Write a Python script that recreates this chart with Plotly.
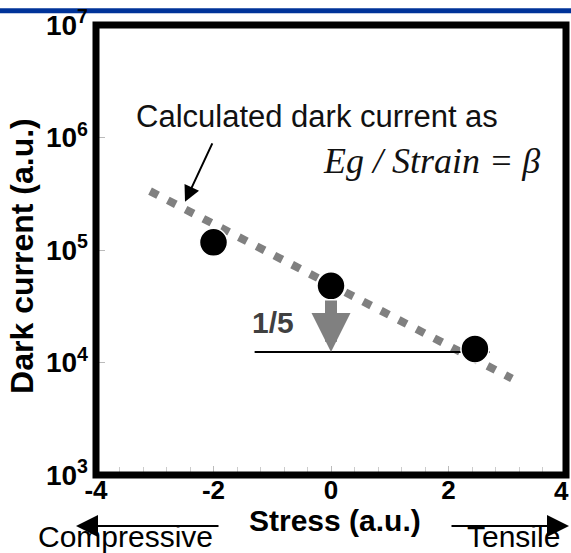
import numpy as np
import plotly.graph_objects as go

# ---- data ----
stress = [-2.0, 0.0, 2.45]
dark_current = [1.17e5, 4.8e4, 1.32e4]

calc_stress = [-3.08, 3.08]
calc_current = [3.34e5, 7.2e3]

ref_stress = [-1.3, 2.7]
ref_current = [1.24e4, 1.24e4]

x_ticks = [-4, -2, 0, 2, 4]
x_ticktext = ["-4", "-2", "0", "2", "4"]
y_ticks = [1e3, 1e4, 1e5, 1e6, 1e7]
y_ticktext = ["10<sup>3</sup>", "10<sup>4</sup>", "10<sup>5</sup>", "10<sup>6</sup>", "10<sup>7</sup>"]

W, H = 571, 553
ML, MR, MT, MB = 96, 5, 17, 78
PW, PH = W - ML - MR, H - MT - MB


def px(xp):
    return (xp - ML) / PW


def py(yp):
    return (MT + PH - yp) / PH


SANS = "Liberation Sans, Arial, sans-serif"
SERIF = "Liberation Serif, Times New Roman, serif"
GRAY = "#808080"
TICKFONT_X = dict(family=SANS, size=26, color="black", weight="bold")

fig = go.Figure()

fig.add_trace(go.Scatter(
    x=calc_stress, y=calc_current, mode="lines",
    line=dict(color=GRAY, width=8, dash="9px,11px"),
    showlegend=False, hoverinfo="skip"))

fig.add_trace(go.Scatter(
    x=ref_stress, y=ref_current, mode="lines",
    line=dict(color="black", width=2),
    showlegend=False, hoverinfo="skip"))

fig.add_trace(go.Scatter(
    x=stress, y=dark_current, mode="markers",
    marker=dict(size=28, color="black", line=dict(color="white", width=1.5)),
    showlegend=False))


def label(text, x, y, font, **kw):
    d = dict(text=text, x=px(x), y=py(y), xref="paper", yref="paper",
             xanchor="center", yanchor="middle", showarrow=False, font=font)
    d.update(kw)
    return d


annotations = [
    label("Calculated dark current as", 317, 110,
          dict(family=SANS, size=31, color="#111111")),
    label("<i>Eg / Strain = β</i>", 431, 155,
          dict(family=SERIF, size=36, color="#111111")),
    dict(text="", x=-2.485, y=5.428, xref="x", yref="y", ax=28, ay=-60,
         showarrow=True, arrowhead=2, arrowsize=1.6, arrowwidth=2, arrowcolor="black"),
    label("1/5", 273, 320, dict(family=SANS, size=30, color="#404040", weight="bold")),
    dict(text="", x=stress[1], y=float(np.log10(ref_current[0])), xref="x", yref="y",
         ax=0, ay=-53, showarrow=True, arrowhead=2, arrowsize=0.65, arrowwidth=12,
         arrowcolor=GRAY),
    label("Dark current (a.u.)", 22, 252,
          dict(family=SANS, size=32, color="black", weight="bold"), textangle=-90),
    label("Stress (a.u.)", 335, 521,
          dict(family=SANS, size=30, color="black", weight="bold")),
    label("Compressive", 125, 538, dict(family=SANS, size=30, color="black")),
    label("Tensile", 513, 538, dict(family=SANS, size=30, color="black")),
    # right-most tick label, which sits at the very edge of the picture
    label(x_ticktext[-1], W, 491, TICKFONT_X, xanchor="right"),
    dict(text="", x=px(76), y=py(527), xref="paper", yref="paper", ax=144, ay=0,
         showarrow=True, arrowhead=2, arrowsize=2.2, arrowwidth=2, arrowcolor="black"),
    dict(text="", x=px(569), y=py(527), xref="paper", yref="paper", ax=-119, ay=0,
         showarrow=True, arrowhead=2, arrowsize=2.2, arrowwidth=2, arrowcolor="black"),
]

shapes = [
    dict(type="rect", xref="paper", yref="paper", x0=0, x1=1, y0=0, y1=1,
         line=dict(color="black", width=7), layer="above"),
    dict(type="rect", xref="paper", yref="paper", x0=px(0), x1=px(W), y0=py(5), y1=py(0),
         fillcolor="#003399", line=dict(width=0), layer="below"),
]

fig.update_layout(
    width=W, height=H, autosize=False,
    margin=dict(l=ML, r=MR, t=MT, b=MB),
    paper_bgcolor="white", plot_bgcolor="white",
    showlegend=False,
    annotations=annotations, shapes=shapes,
    xaxis=dict(range=[-4, 4], tickvals=x_ticks, ticktext=x_ticktext, ticks="inside", ticklen=9,
               tickcolor="#bbbbbb", showgrid=False, zeroline=False, showline=False,
               ticklabelstandoff=-3, tickfont=TICKFONT_X),
    yaxis=dict(type="log", range=[3, 7], tickvals=y_ticks, ticktext=y_ticktext,
               ticks="inside", ticklen=9, tickcolor="#bbbbbb", showgrid=False,
               zeroline=False, showline=False, ticklabelstandoff=7, ticklabeloverflow="allow",
               tickfont=dict(family=SANS, size=28, color="black", weight="bold")),
)
fig.update_xaxes(minor=dict(tick0=-4, dtick=0.4, ticks="inside", ticklen=8, tickcolor="#cccccc"))

fig.write_html("out.html")
